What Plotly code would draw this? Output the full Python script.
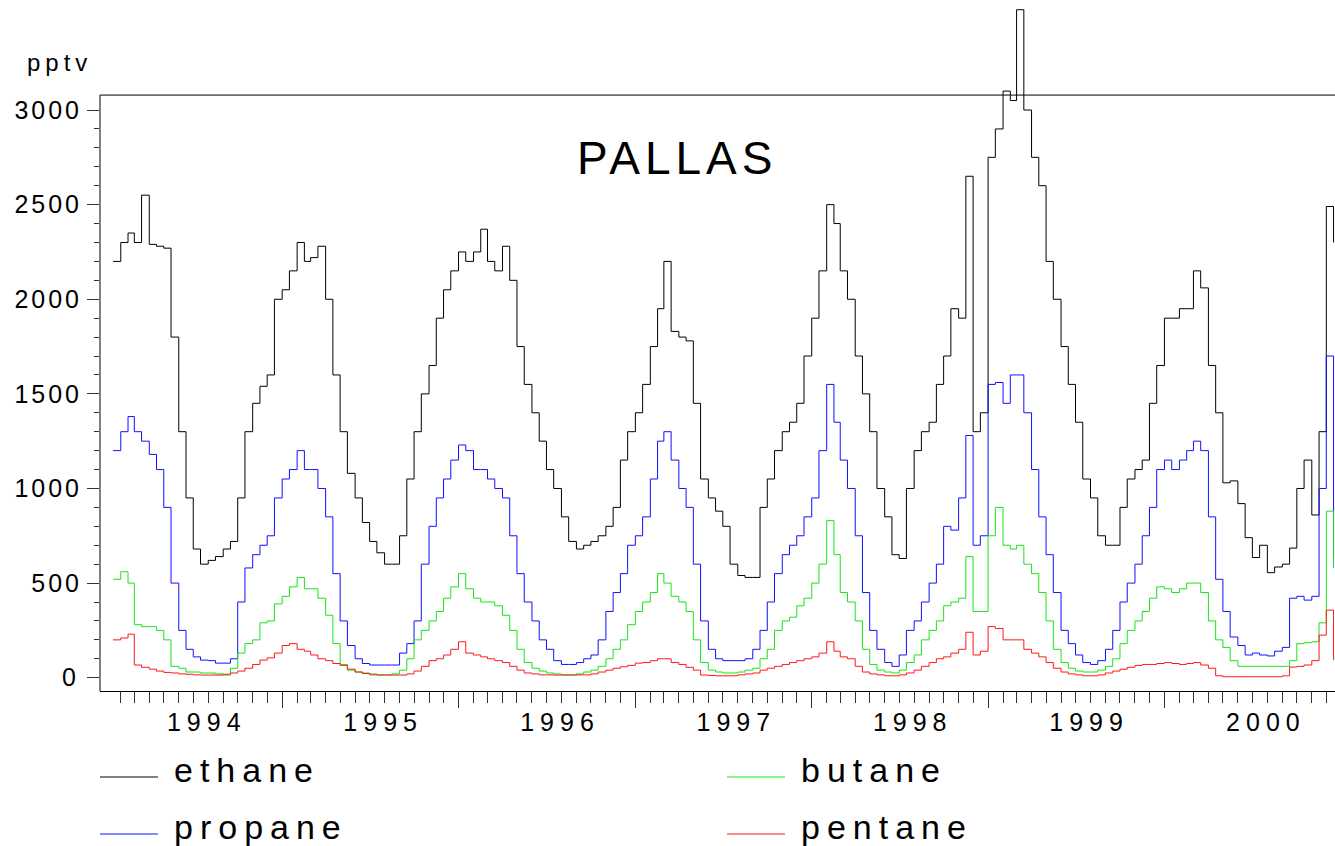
import plotly.graph_objects as go
from datetime import date

# ---------------- data (pptv), semi-monthly samples 1994-01-16 .. 2000-12-16 ----------------
dates = []
for yr in range(1994, 2001):
    for mo in range(1, 13):
        for dy in (1, 16):
            d = date(yr, mo, dy)
            if date(1994, 1, 16) <= d <= date(2000, 12, 16):
                dates.append(d.isoformat())

ethane = [
    # 1994
    2200, 2300, 2350, 2300, 2550, 2290, 2280, 2270, 1800, 1300, 950, 680, 600, 620, 640, 680, 720, 950, 1300, 1450, 1540, 1600, 2000,
    # 1995
    2050, 2150, 2300, 2200, 2220, 2280, 2000, 1600, 1300, 1080, 950, 820, 720, 660, 600, 600, 750, 1050, 1300, 1500, 1650, 1900, 2050, 2150,
    # 1996
    2250, 2200, 2250, 2370, 2200, 2150, 2280, 2100, 1750, 1550, 1400, 1250, 1100, 1000, 850, 720, 680, 700, 720, 750, 800, 900, 1150, 1300,
    # 1997
    1400, 1550, 1750, 1950, 2200, 1830, 1800, 1780, 1450, 1050, 950, 880, 800, 600, 540, 530, 530, 900, 1050, 1200, 1300, 1350, 1450, 1700,
    # 1998
    1900, 2150, 2500, 2400, 2150, 2000, 1700, 1500, 1300, 1000, 850, 650, 630, 1000, 1200, 1300, 1350, 1550, 1700, 1950, 1900, 2650, 1300, 1400,
    # 1999
    2750, 2900, 3100, 3050, 3530, 3000, 2750, 2600, 2200, 2000, 1750, 1550, 1350, 1050, 950, 750, 700, 700, 900, 1050, 1100, 1150, 1450, 1650,
    # 2000
    1900, 1900, 1950, 1950, 2150, 2060, 1650, 1400, 1030, 1040, 920, 740, 635, 700, 555, 585, 600, 685, 1000, 1150, 860, 1300, 2490, 2300,
]

propane = [
    1200, 1300, 1380, 1300, 1250, 1180, 1100, 900, 500, 250, 150, 110, 93, 90, 77, 77, 100, 400, 580, 650, 700, 750, 950,
    1050, 1100, 1200, 1100, 1100, 1000, 850, 550, 300, 170, 100, 75, 67, 67, 67, 67, 130, 180, 300, 600, 800, 950, 1050, 1150,
    1230, 1200, 1100, 1100, 1050, 1000, 950, 750, 550, 400, 300, 200, 150, 90, 70, 70, 80, 100, 120, 200, 350, 450, 550, 700,
    750, 850, 1050, 1250, 1300, 1150, 1000, 900, 600, 300, 150, 100, 90, 90, 90, 100, 150, 250, 400, 550, 650, 700, 750, 850,
    950, 1200, 1550, 1350, 1150, 1000, 750, 450, 250, 150, 80, 60, 120, 250, 300, 400, 500, 600, 800, 780, 950, 1280, 700, 750,
    1550, 1560, 1450, 1600, 1600, 1400, 1100, 850, 650, 450, 250, 180, 120, 80, 70, 90, 150, 250, 400, 500, 600, 750, 900, 1100,
    1150, 1100, 1150, 1200, 1250, 1200, 850, 520, 350, 215, 170, 120, 130, 120, 115, 140, 160, 420, 430, 410, 430, 1000, 1700, 640,
]

butane = [
    520, 560, 500, 280, 270, 270, 250, 200, 60, 50, 30, 30, 25, 25, 20, 14, 50, 130, 180, 200, 290, 300, 390,
    430, 480, 530, 470, 470, 420, 330, 180, 70, 40, 30, 25, 20, 15, 15, 20, 40, 100, 200, 250, 300, 350, 420, 480,
    550, 470, 420, 400, 400, 380, 330, 250, 150, 80, 50, 35, 25, 20, 15, 15, 20, 30, 40, 60, 100, 150, 200, 280,
    350, 400, 450, 550, 500, 430, 400, 350, 200, 80, 40, 30, 25, 25, 30, 40, 50, 100, 150, 250, 300, 320, 380, 420,
    500, 600, 830, 650, 450, 400, 300, 150, 70, 40, 30, 25, 40, 80, 120, 200, 250, 300, 380, 400, 420, 640, 350, 350,
    750, 900, 700, 680, 700, 600, 550, 450, 300, 150, 80, 50, 35, 30, 30, 40, 60, 100, 180, 250, 300, 350, 420, 480,
    470, 450, 470, 500, 500, 450, 300, 200, 160, 90, 60, 60, 60, 60, 60, 60, 60, 90, 180, 185, 190, 290, 880, 580,
]

pentane = [
    200, 210, 230, 67, 55, 45, 35, 28, 25, 20, 18, 15, 14, 14, 14, 18, 25, 35, 50, 70, 93, 105, 130,
    170, 180, 150, 140, 120, 100, 90, 75, 65, 45, 30, 22, 15, 14, 14, 14, 14, 20, 35, 60, 90, 100, 120, 150,
    190, 130, 120, 110, 100, 90, 80, 60, 40, 25, 20, 15, 15, 14, 14, 14, 15, 15, 20, 30, 40, 50, 58, 65,
    77, 80, 90, 100, 100, 80, 70, 55, 40, 14, 12, 10, 10, 10, 15, 20, 25, 40, 50, 60, 70, 80, 90, 100,
    110, 130, 190, 140, 110, 100, 60, 30, 20, 15, 10, 10, 15, 25, 40, 60, 80, 100, 110, 130, 150, 240, 120, 140,
    270, 260, 200, 200, 200, 150, 130, 110, 80, 50, 30, 20, 15, 10, 10, 15, 25, 35, 45, 55, 65, 70, 70, 75,
    80, 75, 70, 75, 80, 67, 50, 10, 5, 5, 5, 5, 5, 5, 5, 5, 10, 56, 60, 67, 90, 225, 357, 93,
]

series_names = ["ethane", "propane", "butane", "pentane"]
series_values = [ethane, propane, butane, pentane]
series_colors = ["#000000", "#1010ff", "#18e418", "#ff1818"]

year_labels = ["1994", "1995", "1996", "1997", "1998", "1999", "2000"]
y_tick_values = [0, 500, 1000, 1500, 2000, 2500, 3000]

# ---------------- figure ----------------
FONT = "Liberation Sans, Arial, Helvetica, sans-serif"
W, H = 1335, 846
ML, MR, MT, MB = 100, 0, 5, 155
PW, PH = W - ML - MR, H - MT - MB
Y0, Y1 = -70.3, 3555.0
FRAME_TOP = 3079.0


def spaced(text, ls):
    return '<span style="letter-spacing:%spx">%s</span>' % (ls, text)


def px_to_paper_x(px):
    return (px - ML) / PW


def py_to_paper_y(py):
    return (H - MB - py) / PH


fig = go.Figure()
for name, vals, col in zip(series_names, series_values, series_colors):
    fig.add_trace(go.Scatter(x=dates, y=vals, name=name, mode="lines",
                             line=dict(color=col, width=1, shape="hv"),
                             showlegend=False, hoverinfo="x+y+name"))

major_x = ["%d-01-01" % y for y in range(1995, 2001)]
minor_x = []
for yr in range(1994, 2001):
    for mo in range(2, 13):
        minor_x.append("%d-%02d-01" % (yr, mo))
label_x = ["%s-07-29" % y for y in year_labels]

# carrier (no visible marks) for the year-label axis
fig.add_trace(go.Scatter(x=label_x, y=[None] * len(label_x), xaxis="x2", yaxis="y",
                         mode="lines", showlegend=False, hoverinfo="skip"))

xrange = ["1993-12-20", "2000-12-19"]

fig.update_layout(
    width=W, height=H,
    margin=dict(l=ML, r=MR, t=MT, b=MB, pad=0),
    paper_bgcolor="white", plot_bgcolor="white",
    font=dict(family=FONT, color="black"),
    showlegend=False,
    xaxis=dict(
        type="date", range=xrange, showgrid=False, zeroline=False,
        showline=True, linecolor="black", linewidth=1,
        tickmode="array", tickvals=major_x, ticks="outside", ticklen=16,
        tickcolor="#333333", tickwidth=1, showticklabels=False,
        minor=dict(tickmode="array", tickvals=minor_x, ticks="outside",
                   ticklen=11, tickcolor="#333333", tickwidth=1, showgrid=False),
    ),
    xaxis2=dict(
        type="date", range=xrange, overlaying="x", anchor="y", side="bottom",
        showgrid=False, zeroline=False, showline=False, ticks="",
        tickmode="array", tickvals=label_x,
        ticktext=[spaced(t, 6) for t in year_labels],
        tickfont=dict(family=FONT, size=25, color="black"),
        ticklabelstandoff=14,
    ),
    yaxis=dict(
        range=[Y0, Y1], showgrid=False, zeroline=False, showline=False,
        tickmode="array", tickvals=y_tick_values,
        ticktext=[spaced(str(v), 6 if v == 0 else 3) for v in y_tick_values],
        ticks="outside", ticklen=12, tickcolor="#333333", tickwidth=1,
        tickfont=dict(family=FONT, size=25, color="black"),
        minor=dict(tickmode="array",
                   tickvals=[v for v in range(100, 3000, 100) if v % 500],
                   ticks="outside", ticklen=5, tickcolor="#333333", tickwidth=1,
                   showgrid=False),
    ),
)

# frame: left axis line and top line
fig.add_shape(type="line", xref="paper", yref="y", x0=0, x1=0, y0=Y0, y1=FRAME_TOP,
              line=dict(color="black", width=1))
fig.add_shape(type="line", xref="paper", yref="y", x0=0, x1=1, y0=FRAME_TOP, y1=FRAME_TOP,
              line=dict(color="black", width=1))

# unit label
fig.add_annotation(text=spaced("pptv", 5), xref="paper", yref="paper",
                   x=px_to_paper_x(25), y=py_to_paper_y(62), xanchor="left", yanchor="middle",
                   showarrow=False, font=dict(family=FONT, size=24, color="black"))

# title inside the plot
fig.add_annotation(text=spaced("PALLAS", 5), xref="paper", yref="paper",
                   x=px_to_paper_x(575), y=py_to_paper_y(158), xanchor="left", yanchor="middle",
                   showarrow=False, font=dict(family=FONT, size=46, color="black"))

# legend drawn as line samples + labels
legend_pos = [(100, 777), (100, 834), (727, 777), (727, 834)]
for (lx, ly), name, col in zip(legend_pos, series_names, series_colors):
    fig.add_shape(type="line", xref="paper", yref="paper",
                  x0=px_to_paper_x(lx), x1=px_to_paper_x(lx + 58),
                  y0=py_to_paper_y(ly), y1=py_to_paper_y(ly),
                  line=dict(color=col, width=1))
    fig.add_annotation(text=spaced(name, 7), xref="paper", yref="paper",
                       x=px_to_paper_x(lx + 72), y=py_to_paper_y(ly - 7),
                       xanchor="left", yanchor="middle", showarrow=False,
                       font=dict(family=FONT, size=34, color="black"))

fig.write_html("out.html", config={"displayModeBar": False},
               post_script="document.body.style.margin='0';")
